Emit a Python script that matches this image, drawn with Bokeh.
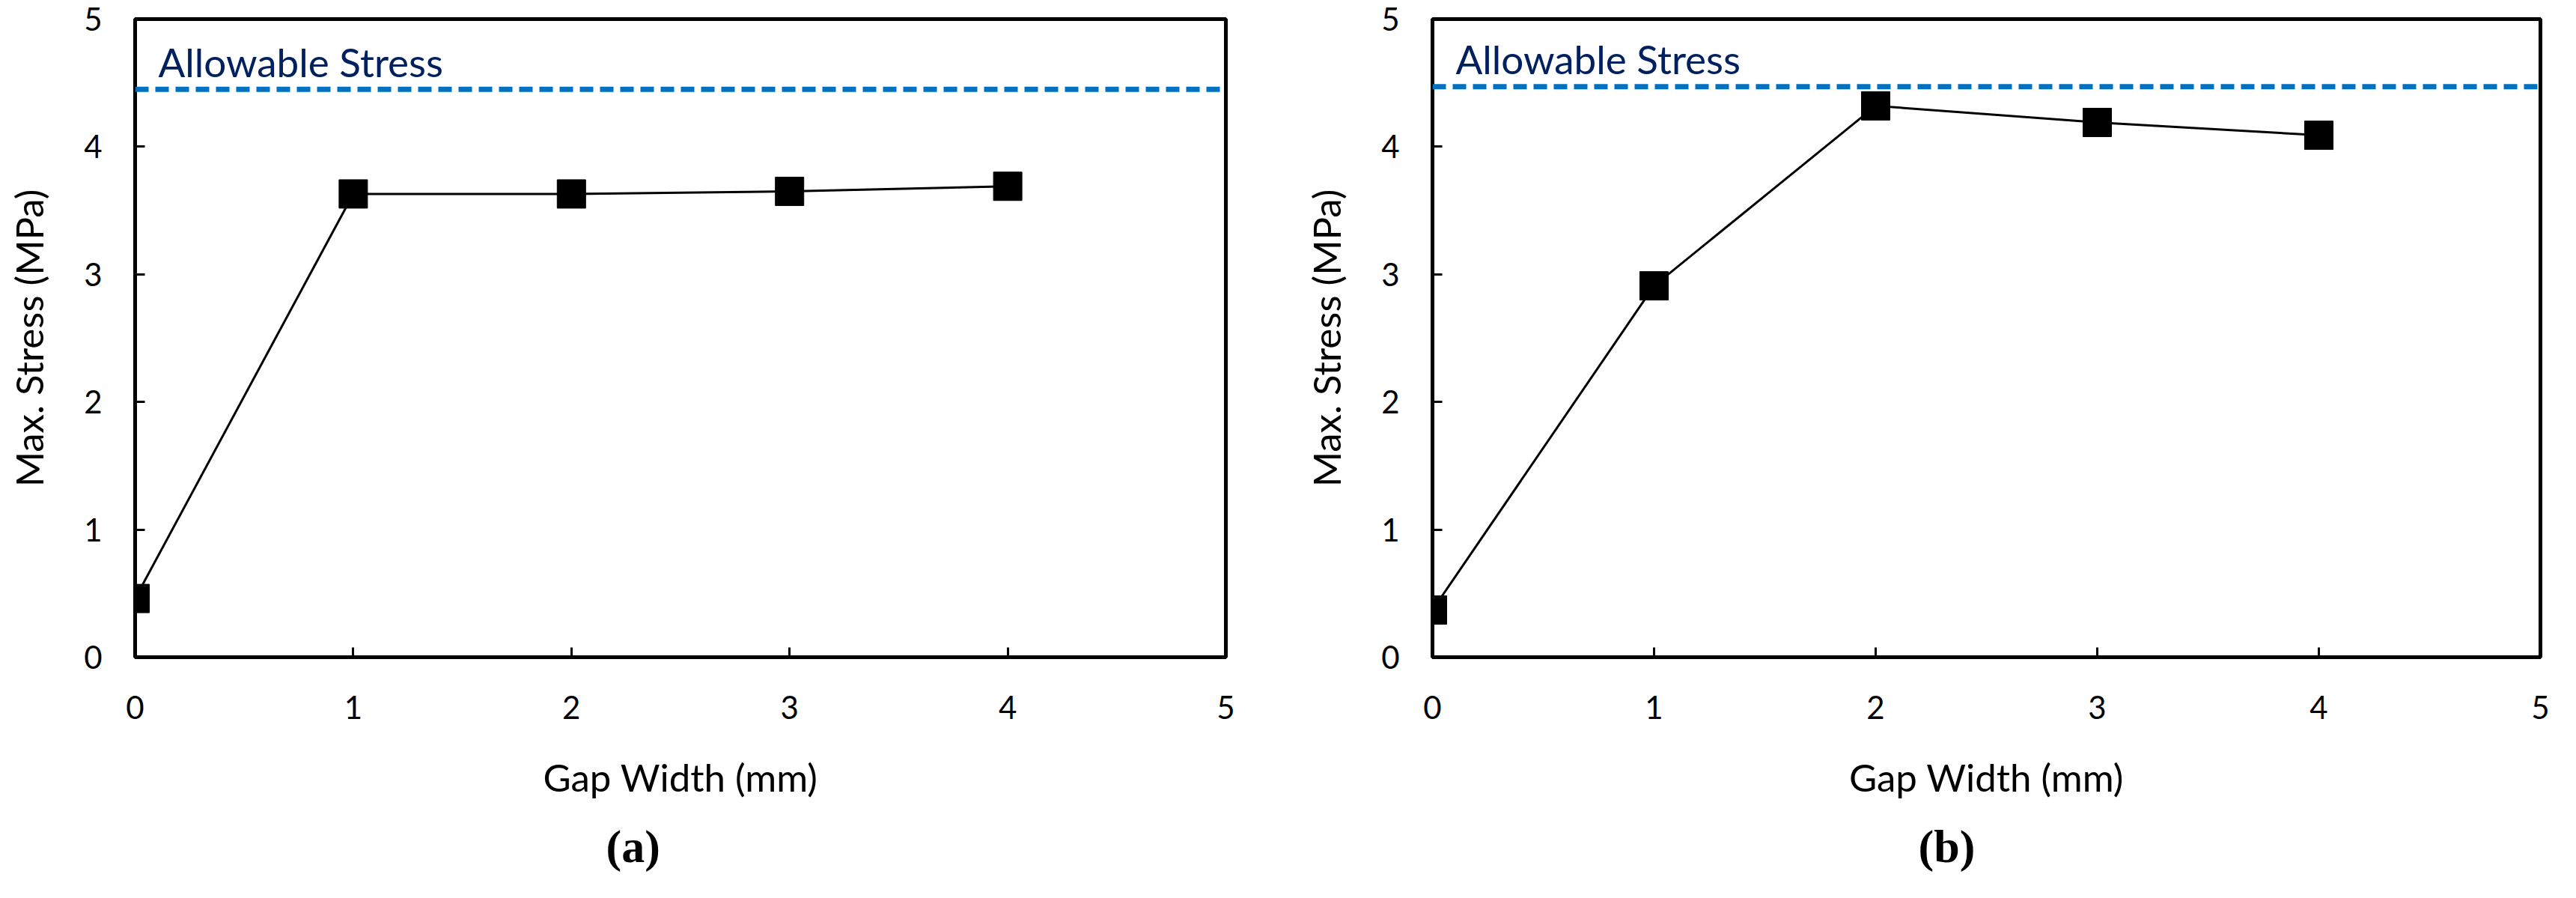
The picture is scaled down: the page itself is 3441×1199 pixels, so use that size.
from bokeh.plotting import figure
from bokeh.models import Range1d, Span, Label, Title, FixedTicker
from bokeh.layouts import row
from bokeh.embed import file_html
from bokeh.resources import INLINE

# ---- data ----
gap_width = [0, 1, 2, 3, 4]
stress_a = [0.46, 3.63, 3.63, 3.65, 3.69]
stress_b = [0.37, 2.91, 4.32, 4.19, 4.09]
allowable_a = 4.45
allowable_b = 4.47
x_ticks = [0, 1, 2, 3, 4, 5]
y_ticks = [0, 1, 2, 3, 4, 5]
x_label = "Gap Width (mm)"
y_label = "Max. Stress (MPa)"
allow_text = "Allowable Stress"

SANS = "Lato"


def make_panel(xs, ys, allow, tag, width, bl, fw, br, title_off):
    p = figure(width=width, height=1183, frame_width=fw, frame_height=852,
               min_border_left=bl, min_border_right=br, min_border_top=25,
               min_border_bottom=306, output_backend="svg", toolbar_location=None,
               x_range=Range1d(0, 5), y_range=Range1d(0, 5))
    p.background_fill_color = "white"
    p.border_fill_color = "white"
    p.grid.visible = False
    p.outline_line_color = "black"
    p.outline_line_width = 5

    for ax in (p.xaxis[0], p.yaxis[0]):
        ax.axis_line_width = 5
        ax.axis_line_color = "black"
        ax.major_tick_in = 13
        ax.major_tick_out = 0
        ax.major_tick_line_width = 3
        ax.minor_tick_line_color = None
        ax.major_label_text_font = SANS
        ax.major_label_text_font_size = "42px"
        ax.major_label_text_color = "black"
        ax.axis_label_text_font = SANS
        ax.axis_label_text_font_size = "51px"
        ax.axis_label_text_font_style = "normal"
        ax.axis_label_text_color = "black"
    p.xaxis.ticker = FixedTicker(ticks=x_ticks)
    p.yaxis.ticker = FixedTicker(ticks=y_ticks)
    p.xaxis.axis_label = x_label
    p.yaxis.axis_label = y_label
    p.xaxis.major_label_standoff = 51
    p.yaxis.major_label_standoff = 44
    p.xaxis.axis_label_standoff = 44
    p.yaxis.axis_label_standoff = 40

    span = Span(location=allow, dimension="width", line_color="#0070C0",
                line_width=7, line_dash="18 9")
    p.add_layout(span)
    p.add_layout(Label(x=0, y=allow, x_offset=31, y_offset=37, text=allow_text,
                       text_font=SANS, text_font_size="53px", text_color="#002060",
                       text_baseline="alphabetic"))

    p.line(xs, ys, line_color="black", line_width=3)
    p.scatter(xs, ys, marker="square", size=38, fill_color="black", line_color="black")

    p.add_layout(Title(text=tag, align="left", offset=title_off, text_font="Liberation Serif",
                       text_font_size="62px", text_font_style="bold", text_color="black",
                       standoff=46), "below")
    return p


p1 = make_panel(gap_width, stress_a, allowable_a, "(a)", 1712, 180, 1457, 75, 629)
p2 = make_panel(gap_width, stress_b, allowable_b, "(b)", 1713, 201, 1480, 32, 649)

layout = row(p1, p2)
open("out.html", "w").write(file_html(layout, INLINE))
